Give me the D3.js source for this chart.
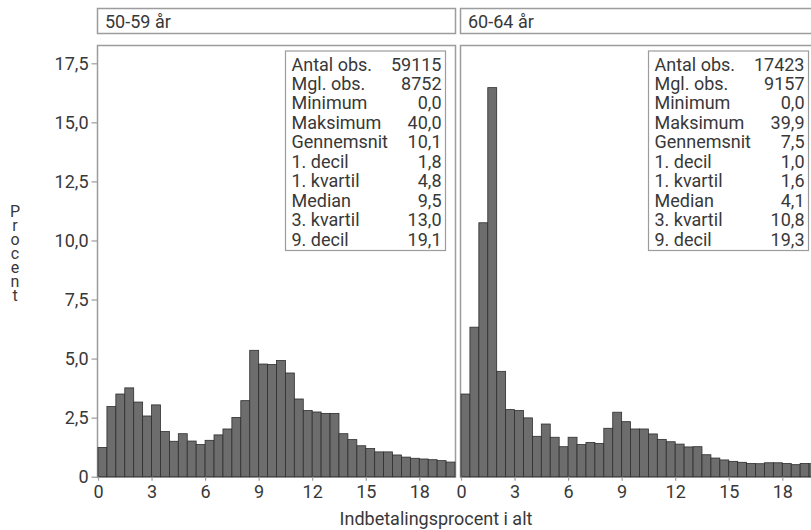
<!DOCTYPE html>
<html>
<head>
<meta charset="utf-8">
<script src="https://cdn.jsdelivr.net/npm/d3@7"></script>
<style>
  html, body { margin: 0; padding: 0; background: #fff; }
  svg { display: block; font-family: Roboto, "Noto Sans", sans-serif; }
</style>
</head>
<body>
<svg id="chart" width="811" height="530"></svg>
<script>
// Histogram bins: width 0.5 percentage point, 0 to 20
const binStarts = d3.range(0, 20, 0.5);

// Share of observations (%) per bin, age 50-59
const values5059 = [1.24, 2.97, 3.50, 3.76, 3.16, 2.57, 3.04, 1.91, 1.50, 1.82,
                    1.51, 1.36, 1.54, 1.77, 2.02, 2.51, 3.22, 5.35, 4.77, 4.75,
                    4.92, 4.39, 3.29, 2.80, 2.74, 2.68, 2.68, 1.82, 1.57, 1.31,
                    1.19, 1.05, 1.05, 0.92, 0.83, 0.78, 0.75, 0.72, 0.68, 0.62];

// Share of observations (%) per bin, age 60-64
const values6064 = [3.50, 6.33, 10.75, 16.47, 4.46, 2.84, 2.80, 2.49, 1.71, 2.23,
                    1.67, 1.27, 1.67, 1.36, 1.45, 1.41, 2.05, 2.73, 2.33, 2.02,
                    2.02, 1.81, 1.58, 1.48, 1.38, 1.26, 1.27, 0.93, 0.79, 0.71,
                    0.65, 0.61, 0.56, 0.55, 0.59, 0.59, 0.56, 0.51, 0.56, 0.55];

const panelTitles = ["50-59 år", "60-64 år"];

const statLabels = ["Antal obs.", "Mgl. obs.", "Minimum", "Maksimum", "Gennemsnit",
                    "1. decil", "1. kvartil", "Median", "3. kvartil", "9. decil"];
const stats5059 = ["59115", "8752", "0,0", "40,0", "10,1", "1,8", "4,8", "9,5", "13,0", "19,1"];
const stats6064 = ["17423", "9157", "0,0", "39,9", "7,5", "1,0", "1,6", "4,1", "10,8", "19,3"];

const yTicks = [0, 2.5, 5, 7.5, 10, 12.5, 15, 17.5];
const xTicks = [0, 3, 6, 9, 12, 15, 18];

const xTitle = "Indbetalingsprocent i alt";
const yTitle = "Procent";

// ---- layout ----
const svg = d3.select("#chart");
const textColor = "#383838";
const frameColor = "#9c9c9c";
const panelTop = 45.5, baseY = 476.7;
const panels = [
  { left: 98, right: 455, values: values5059, stats: stats5059, title: panelTitles[0] },
  { left: 461, right: 818, values: values6064, stats: stats6064, title: panelTitles[1] }
];

const y = d3.scaleLinear().domain([0, 17.5]).range([baseY, 63.3]);
const fmt = d => d === 0 ? "0" : d.toFixed(1).replace(".", ",");

panels.forEach((p, pi) => {
  const x = d3.scaleLinear().domain([0, 20]).range([p.left, p.right]);
  const g = svg.append("g");

  // strip header
  g.append("rect")
    .attr("x", p.left - 0.5).attr("y", 8.5)
    .attr("width", p.right - p.left + 1).attr("height", 25)
    .attr("fill", "#fff").attr("stroke", frameColor).attr("stroke-width", 1.5);
  g.append("text")
    .attr("x", p.left + 7).attr("y", 28)
    .attr("font-size", 18).attr("fill", textColor)
    .text(p.title);

  // panel frame
  g.append("rect")
    .attr("x", p.left - 0.5).attr("y", panelTop)
    .attr("width", p.right - p.left + 1).attr("height", baseY - panelTop + 0.5)
    .attr("fill", "#fff").attr("stroke", frameColor).attr("stroke-width", 1.5);

  // bars
  g.append("g").selectAll("rect")
    .data(p.values)
    .join("rect")
    .attr("x", (d, i) => x(binStarts[i]))
    .attr("width", x(0.5) - x(0))
    .attr("y", d => y(d))
    .attr("height", d => y(0) - y(d))
    .attr("fill", "#6d6d6d")
    .attr("stroke", "#2e2e2e")
    .attr("stroke-width", 0.8);

  // x axis
  const xAxis = d3.axisBottom(x).tickValues(xTicks).tickSize(4).tickPadding(5)
    .tickFormat(d3.format("d"));
  const ax = g.append("g").attr("transform", `translate(0,${baseY})`).call(xAxis);
  ax.select(".domain").remove();
  ax.selectAll("line").attr("stroke", frameColor).attr("stroke-width", 1.2);
  ax.selectAll("text").attr("font-size", 18).attr("fill", textColor)
    .attr("font-family", "Roboto, sans-serif");

  // summary statistics box
  const bw = 160, bx = p.right - 9.5 - bw, by = 51, bh = 199.5;
  g.append("rect")
    .attr("x", bx).attr("y", by).attr("width", bw).attr("height", bh)
    .attr("fill", "#fff").attr("stroke", frameColor).attr("stroke-width", 1.2);
  const rows = g.append("g").selectAll("g")
    .data(statLabels)
    .join("g")
    .attr("transform", (d, i) => `translate(0,${70.5 + i * 19.45})`);
  rows.append("text")
    .attr("x", bx + 6).attr("font-size", 18).attr("fill", textColor)
    .text(d => d);
  rows.append("text")
    .attr("x", bx + bw - 4).attr("text-anchor", "end")
    .attr("font-size", 18).attr("fill", textColor)
    .text((d, i) => p.stats[i]);

  // y axis only on the first panel
  if (pi === 0) {
    const yAxis = d3.axisLeft(y).tickValues(yTicks).tickSize(6).tickPadding(3).tickFormat(fmt);
    const ay = g.append("g").attr("transform", `translate(${p.left - 0.5},0)`).call(yAxis);
    ay.select(".domain").remove();
    ay.selectAll("line").attr("stroke", frameColor).attr("stroke-width", 1.2);
    ay.selectAll("text").attr("font-size", 18).attr("fill", textColor)
      .attr("font-family", "Roboto, sans-serif");
  }
});

// y title: upright letters stacked in one vertical line of text
svg.append("text")
  .attr("x", 15).attr("y", 202)
  .attr("writing-mode", "vertical-rl")
  .style("text-orientation", "upright")
  .style("letter-spacing", "-5px")
  .attr("font-size", 16).attr("fill", textColor)
  .text(yTitle);

// x title
svg.append("text")
  .attr("x", 436).attr("y", 525)
  .attr("text-anchor", "middle")
  .attr("font-size", 18).attr("fill", textColor)
  .text(xTitle);
</script>
</body>
</html>
